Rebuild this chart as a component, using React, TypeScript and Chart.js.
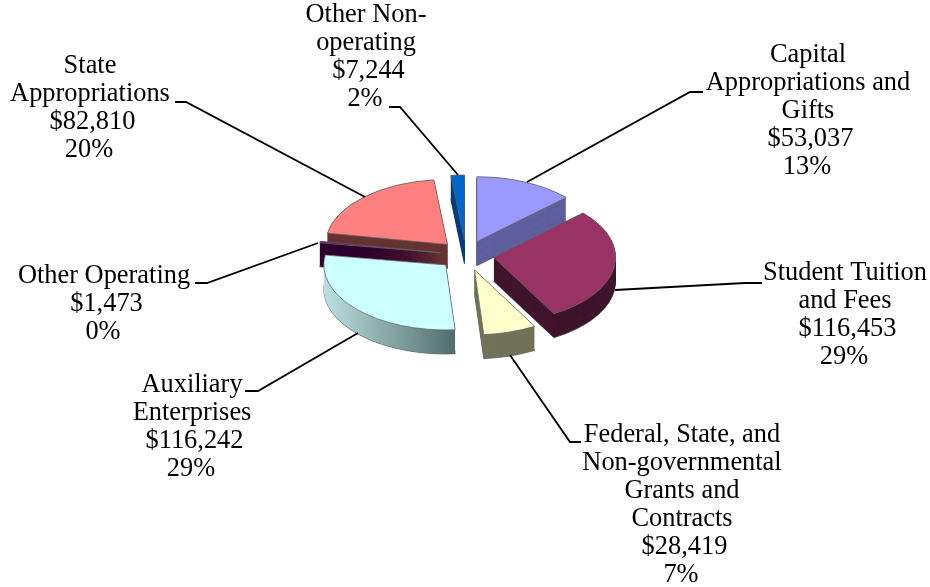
import React, { useEffect, useRef } from "react";
import { Chart, registerables } from "chart.js";

Chart.register(...registerables);

const categories = [
  "Capital Appropriations and Gifts",
  "Student Tuition and Fees",
  "Federal, State, and Non-governmental Grants and Contracts",
  "Auxiliary Enterprises",
  "Other Operating",
  "State Appropriations",
  "Other Non-operating",
];
const values = [53037, 116453, 28419, 116242, 1473, 82810, 7244];
const percents = ["13%", "29%", "7%", "29%", "0%", "20%", "2%"];
const nameLines = [
  ["Capital", "Appropriations and", "Gifts"],
  ["Student Tuition", "and Fees"],
  ["Federal, State, and", "Non-governmental", "Grants and", "Contracts"],
  ["Auxiliary", "Enterprises"],
  ["Other Operating"],
  ["State", "Appropriations"],
  ["Other Non-", "operating"],
];

const topColors = ["#9999FF", "#993366", "#FFFFCC", "#CCFFFF", "#660066", "#FF8080", "#0066CC"];
const wallColors = [
  ["#5F5F9F", "#6A6AA8"],
  ["#3F142C", "#4A1A36"],
  ["#72725A", "#6E6E52"],
  ["#BCE0E0", "#4F6A6A"],
  ["#2E002E", "#2E002E"],
  ["#663333", "#663333"],
  ["#003F80", "#004C99"],
];

const explode = [27, 28, 29, 27.5, 26, 27, 28];
const wallOrder = [6, 5, 4, 0, 1, 3, 2];

const PIE = { cx: 466, cy: 255, radius: 122, squash: 0.533, depth: 24 };
const FONT = '26.4px "Liberation Serif"';
const LINE = 28;
const VALUE_NUDGE = 2.5;
const PERCENT_NUDGE = -1;

const labelLayout = [
  { x: 808, y: 62, leader: [[703, 92], [690, 92], [527, 182]] },
  { x: 845, y: 280, leader: [[762, 283], [745, 283], [615, 290]] },
  { x: 682, y: 442, leader: [[581, 442], [570, 442], [510, 355]] },
  { x: 192, y: 392, leader: [[245, 391], [258, 391], [358, 333]] },
  { x: 104, y: 283, leader: [[195, 283], [207, 283], [318, 243]] },
  { x: 90, y: 73, leader: [[175, 102], [186, 102], [365, 197]] },
  { x: 366, y: 22, leader: [[389, 107], [400, 107], [458, 175]] },
];

const pie3d = {
  id: "pie3d",
  beforeDatasetDraw(chart: any) {
    const ctx = chart.ctx;
    const arcs = chart.getDatasetMeta(0).data;
    const place = (arc: any, i: number) => {
      const mid = (arc.startAngle + arc.endAngle) / 2;
      ctx.translate(PIE.cx, PIE.cy);
      ctx.scale(1, PIE.squash);
      ctx.translate(Math.cos(mid) * explode[i] - arc.x, Math.sin(mid) * explode[i] - arc.y);
    };
    wallOrder.forEach((i) => {
      const arc = arcs[i];
      ctx.save();
      place(arc, i);
      const path = () => {
        ctx.beginPath();
        ctx.moveTo(arc.x, arc.y);
        ctx.arc(arc.x, arc.y, arc.outerRadius, arc.startAngle, arc.endAngle);
        ctx.closePath();
      };
      const g = ctx.createLinearGradient(arc.x - arc.outerRadius, 0, arc.x + arc.outerRadius * 0.1, 0);
      g.addColorStop(0, wallColors[i][0]);
      g.addColorStop(1, wallColors[i][1]);
      const isAux = i === 3;
      const solid = wallColors[i][0];
      const steps = PIE.depth / PIE.squash;
      for (let d = steps; d > 0; d -= 1) {
        ctx.save();
        ctx.translate(0, d);
        path();
        ctx.fillStyle = isAux ? g : solid;
        ctx.fill();
        if (d === steps) {
          ctx.strokeStyle = "#555555";
          ctx.lineWidth = 1;
          ctx.stroke();
        }
        ctx.restore();
      }
      ctx.restore();
    });
    arcs.forEach((arc: any, i: number) => {
      ctx.save();
      place(arc, i);
      arc.draw(ctx);
      ctx.restore();
    });
    return false;
  },
  afterDatasetsDraw(chart: any) {
    const ctx = chart.ctx;
    ctx.save();
    ctx.font = FONT;
    ctx.fillStyle = "#000000";
    ctx.textAlign = "center";
    ctx.textBaseline = "alphabetic";
    labelLayout.forEach((l, i) => {
      const n = nameLines[i].length;
      nameLines[i].forEach((t, k) => ctx.fillText(t, l.x, l.y + k * LINE));
      ctx.fillText("$" + values[i].toLocaleString("en-US"), l.x + VALUE_NUDGE, l.y + n * LINE);
      ctx.fillText(percents[i], l.x + PERCENT_NUDGE, l.y + (n + 1) * LINE);
      ctx.beginPath();
      l.leader.forEach((p, k) => (k ? ctx.lineTo(p[0], p[1]) : ctx.moveTo(p[0], p[1])));
      ctx.strokeStyle = "#000000";
      ctx.lineWidth = 1.8;
      ctx.stroke();
    });
    ctx.restore();
  },
};

export default function App() {
  const ref = useRef<HTMLCanvasElement>(null);
  useEffect(() => {
    const chart = new Chart(ref.current!, {
      type: "pie",
      data: {
        labels: categories,
        datasets: [{ data: values, backgroundColor: topColors, borderColor: "#666666", borderWidth: 1 }],
      },
      options: {
        responsive: false,
        animation: false,
        radius: PIE.radius,
        plugins: { legend: { display: false }, tooltip: { enabled: false } },
      } as any,
      plugins: [pie3d as any],
    });
    return () => chart.destroy();
  }, []);
  return (
    <div style={{ position: "absolute", left: 0, top: 0, width: 930, height: 587, overflow: "hidden", background: "#fff" }}>
      <canvas ref={ref} width={930} height={587} style={{ display: "block", filter: "blur(0.5px)" }} />
    </div>
  );
}
